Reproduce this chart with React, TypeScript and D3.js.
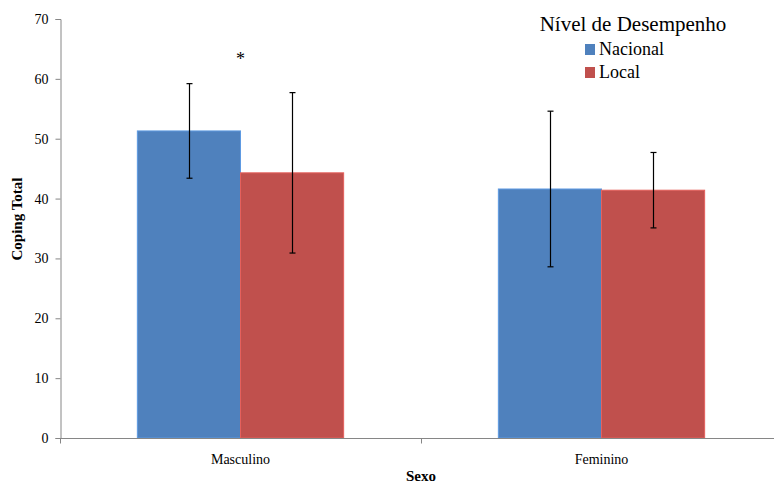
import { useEffect, useRef } from 'react';
import * as d3 from 'd3';

const categories = ['Masculino', 'Feminino'];
const seriesNames = ['Nacional', 'Local'];
const nacionalMeans = [51.3, 41.6];
const localMeans = [44.3, 41.4];
const nacionalSd = [7.9, 13.0];
const localSd = [13.4, 6.3];
const yTicks = [0, 10, 20, 30, 40, 50, 60, 70];

const COLORS = ['#4F81BD', '#C0504D'];
const FONT = "'Liberation Serif', 'DejaVu Serif', serif";

const App = () => {
  const svgRef = useRef<SVGSVGElement | null>(null);

  useEffect(() => {
    const svg = d3.select(svgRef.current);
    svg.selectAll('*').remove();

    const margin = { top: 19, left: 60, bottom: 46 };
    const totalH = 484;
    const plotRight = 782;
    const plotBottom = totalH - margin.bottom;

    const x0 = d3.scaleBand<string>()
      .domain(categories)
      .range([margin.left, plotRight])
      .paddingInner(0)
      .paddingOuter(0);

    // Excel-style gap width 150%
    const groupW = x0.bandwidth() / (1 + 0.75);
    const x1 = d3.scaleBand<string>()
      .domain(seriesNames)
      .range([0, groupW]);

    const y = d3.scaleLinear().domain([0, 70]).range([plotBottom, margin.top]);

    const data = categories.flatMap((c, i) => [
      { cat: c, s: 'Nacional', v: nacionalMeans[i], sd: nacionalSd[i], color: COLORS[0] },
      { cat: c, s: 'Local', v: localMeans[i], sd: localSd[i], color: COLORS[1] },
    ]);

    const barX = (d: any) => (x0(d.cat) as number) + (x0.bandwidth() - groupW) / 2 + (x1(d.s) as number);

    // bars
    svg.append('g')
      .selectAll('rect')
      .data(data)
      .enter()
      .append('rect')
      .attr('x', d => barX(d))
      .attr('y', d => y(d.v))
      .attr('width', x1.bandwidth())
      .attr('height', d => plotBottom - y(d.v))
      .attr('fill', d => d.color)
      .attr('stroke', d => d3.color(d.color)!.brighter(0.5).toString())
      .attr('stroke-width', 1);

    // error bars
    const err = svg.append('g').attr('stroke', '#000').attr('stroke-width', 1.2);
    data.forEach(d => {
      const cx = Math.round(barX(d) + x1.bandwidth() / 2) + 0.5;
      err.append('line').attr('x1', cx).attr('x2', cx).attr('y1', y(d.v + d.sd)).attr('y2', y(d.v - d.sd));
      err.append('line').attr('x1', cx - 3).attr('x2', cx + 3).attr('y1', y(d.v + d.sd)).attr('y2', y(d.v + d.sd));
      err.append('line').attr('x1', cx - 3).attr('x2', cx + 3).attr('y1', y(d.v - d.sd)).attr('y2', y(d.v - d.sd));
    });

    // y axis
    const yAxis = svg.append('g')
      .attr('transform', `translate(${margin.left + 0.5},0)`)
      .call(d3.axisLeft(y).tickValues(yTicks).tickSize(5).tickPadding(7));
    yAxis.attr('font-family', null).attr('font-size', null);
    yAxis.select('.domain').attr('stroke', '#868686');
    yAxis.selectAll('.tick line').attr('stroke', '#868686');
    yAxis.selectAll('.tick text')
      .style('font-family', FONT)
      .style('font-size', '14px')
      .attr('fill', '#000');

    // x axis
    const xAxis = svg.append('g')
      .attr('transform', `translate(0,${plotBottom + 0.5})`);
    xAxis.append('line')
      .attr('x1', margin.left).attr('x2', plotRight)
      .attr('stroke', '#868686');
    const bounds = [margin.left, ...categories.map(c => (x0(c) as number) + x0.bandwidth())];
    bounds.forEach(b => {
      xAxis.append('line')
        .attr('x1', Math.round(b) + 0.5).attr('x2', Math.round(b) + 0.5)
        .attr('y1', 0).attr('y2', 5)
        .attr('stroke', '#868686');
    });
    xAxis.selectAll('text.cat')
      .data(categories)
      .enter()
      .append('text')
      .attr('x', d => (x0(d) as number) + x0.bandwidth() / 2)
      .attr('y', 25)
      .attr('text-anchor', 'middle')
      .style('font-size', '14px')
      .text(d => d);

    // axis titles
    svg.append('text')
      .attr('transform', `translate(22,219) rotate(-90)`)
      .attr('text-anchor', 'middle')
      .style('font-size', '15px')
      .attr('font-weight', 'bold')
      .text('Coping Total');

    svg.append('text')
      .attr('x', 421)
      .attr('y', 481)
      .attr('text-anchor', 'middle')
      .style('font-size', '15px')
      .attr('font-weight', 'bold')
      .text('Sexo');

    // significance marker
    svg.append('text')
      .attr('x', (x0('Masculino') as number) + x0.bandwidth() / 2)
      .attr('y', 65)
      .attr('text-anchor', 'middle')
      .style('font-size', '18px')
      .text('*');

    // legend
    const legend = svg.append('g');
    legend.append('text')
      .attr('x', 633)
      .attr('y', 31)
      .attr('text-anchor', 'middle')
      .style('font-size', '21px')
      .text('Nível de Desempenho');
    seriesNames.forEach((s, i) => {
      const g = legend.append('g').attr('transform', `translate(585,${44 + i * 23})`);
      g.append('rect').attr('width', 10).attr('height', 11).attr('fill', COLORS[i]);
      g.append('text')
        .attr('x', 14)
        .attr('y', 11)
        .style('font-size', '18px')
        .text(s);
    });
  }, []);

  return (
    <svg
      ref={svgRef}
      width={774}
      height={484}
      style={{ position: 'absolute', left: 0, top: 0, background: '#fff', fontFamily: FONT }}
    />
  );
};

export default App;
